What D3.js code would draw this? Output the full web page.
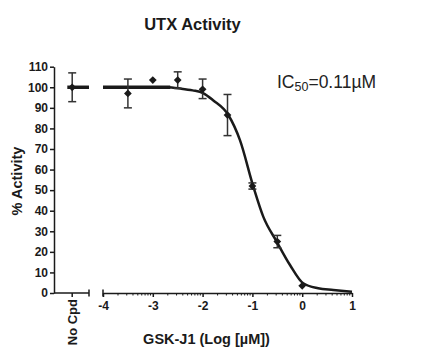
<!DOCTYPE html>
<html><head><meta charset="utf-8">
<script src="https://cdn.jsdelivr.net/npm/d3@7"></script>
<style>body{margin:0;background:#fff}svg{display:block}text{font-family:"Liberation Sans",Arial,sans-serif}</style>
</head><body><svg id="c" width="421" height="364"></svg>
<script>
// ---- data ----
const title = "UTX Activity";
const xTitle = "GSK-J1 (Log [\u00b5M])";
const yTitle = "% Activity";
const controlLabel = "No Cpd";
const controlValue = 100, controlLo = 93, controlHi = 107;
const logDose = [-3.5, -3.0, -2.5, -2.0, -1.5, -1.0, -0.5, 0.0];
const activity = [97, 103.5, 103.5, 99, 86.5, 52, 25, 3.5];
const errLo = [90, 103.5, 99.5, 94.5, 76.5, 50.5, 22, 3.5];
const errHi = [104, 103.5, 107.5, 104, 96.5, 53.5, 28, 3.5];
const fitX = [-2.7, -2.45, -2.2, -1.99, -1.79, -1.48, -1.25, -0.98, -0.78, -0.51, -0.245, 0.02, 0.32, 0.625, 1.0];
const fitY = [100, 99.4, 98.5, 97.2, 93.7, 86.4, 74.3, 51.6, 37, 24.9, 13.6, 4.7, 2.3, 1.5, 0.6];
const topPlateauX = [-4, -2.65];
const topPlateau = 100;
const xTicks = [-4, -3, -2, -1, 0, 1];
const yTicks = [0, 10, 20, 30, 40, 50, 60, 70, 80, 90, 100, 110];

// ---- layout ----
const svg = d3.select("#c");
const ink = "#1a1a1a";
const x = d3.scaleLinear().domain([-4, 1]).range([103, 352]);
const y = d3.scaleLinear().domain([0, 110]).range([293, 66.7]);
const xc = d3.scaleLinear().domain([0, 1]).range([54, 89]); // control segment
const ctrlPos = 0.52;

// title
svg.append("text").attr("x", 192.5).attr("y", 30).attr("text-anchor", "middle")
  .attr("font-size", 16.5).attr("font-weight", "bold").attr("fill", ink).text(title);

// y axis
const yAxis = svg.append("g").attr("transform", "translate(54,0)")
  .call(d3.axisLeft(y).tickValues(yTicks).tickSize(4).tickPadding(2).tickSizeOuter(0));
yAxis.select(".domain").attr("stroke", ink).attr("stroke-width", 1.5);
yAxis.selectAll(".tick line").attr("stroke", ink).attr("stroke-width", 1.5);
yAxis.selectAll(".tick text").attr("font-size", 12).attr("font-weight", "bold").attr("fill", ink)
  .attr("font-family", "Liberation Sans, Arial, sans-serif");

// control x segment
svg.append("line").attr("x1", xc(0)).attr("x2", xc(1)).attr("y1", y(0)).attr("y2", y(0))
  .attr("stroke", ink).attr("stroke-width", 1.5);
svg.append("line").attr("x1", xc(1)).attr("x2", xc(1)).attr("y1", y(0) - 3.5).attr("y2", y(0) + 3.5)
  .attr("stroke", ink).attr("stroke-width", 1.5);
svg.append("line").attr("x1", xc(ctrlPos)).attr("x2", xc(ctrlPos)).attr("y1", y(0)).attr("y2", y(0) + 4)
  .attr("stroke", ink).attr("stroke-width", 1.5);
svg.append("text").attr("transform", `translate(${xc(ctrlPos) + 4.5},${y(0) + 6}) rotate(-90)`)
  .attr("text-anchor", "end").attr("font-size", 13).attr("font-weight", "bold").attr("fill", ink).text(controlLabel);

// main x axis
const xAxis = svg.append("g").attr("transform", `translate(0,${y(0)})`)
  .call(d3.axisBottom(x).tickValues(xTicks).tickSize(4).tickPadding(4).tickSizeOuter(0).tickFormat(d3.format("d")));
xAxis.select(".domain").attr("stroke", ink).attr("stroke-width", 1.5);
xAxis.selectAll(".tick line").attr("stroke", ink).attr("stroke-width", 1.5);
xAxis.selectAll(".tick text").attr("font-size", 12).attr("font-weight", "bold").attr("fill", ink)
  .attr("font-family", "Liberation Sans, Arial, sans-serif").text(d => d < 0 ? "-" + Math.abs(d) : d);
svg.append("line").attr("x1", x(-4)).attr("x2", x(-4)).attr("y1", y(0) - 3.5).attr("y2", y(0) + 3.5)
  .attr("stroke", ink).attr("stroke-width", 1.5);
// minor log ticks
const minor = [];
for (let d = -4; d < 1; d++) for (let k = 2; k <= 9; k++) minor.push(d + Math.log10(k));
svg.append("g").selectAll("line").data(minor).join("line")
  .attr("x1", d => x(d)).attr("x2", d => x(d)).attr("y1", y(0)).attr("y2", y(0) + 2.5)
  .attr("stroke", ink).attr("stroke-width", 1);

// axis titles
svg.append("text").attr("transform", `translate(22,181) rotate(-90)`).attr("text-anchor", "middle")
  .attr("font-size", 14.5).attr("font-weight", "bold").attr("fill", ink).text(yTitle);
svg.append("text").attr("x", 206.5).attr("y", 344).attr("text-anchor", "middle")
  .attr("font-size", 14.5).attr("font-weight", "bold").attr("fill", ink).text(xTitle);

// plateau lines
svg.append("line").attr("x1", xc(0.38)).attr("x2", xc(1)).attr("y1", y(topPlateau)).attr("y2", y(topPlateau))
  .attr("stroke", ink).attr("stroke-width", 3.5);
svg.append("line").attr("x1", x(topPlateauX[0])).attr("x2", x(topPlateauX[1])).attr("y1", y(topPlateau)).attr("y2", y(topPlateau))
  .attr("stroke", ink).attr("stroke-width", 3.5);

// fitted curve
svg.append("path").datum(fitX.map((v, i) => [v, fitY[i]]))
  .attr("d", d3.line().x(d => x(d[0])).y(d => y(d[1])).curve(d3.curveMonotoneX))
  .attr("fill", "none").attr("stroke", ink).attr("stroke-width", 2.5);

// error bars
function errBar(cx, lo, hi) {
  if (hi - lo < 0.01) return;
  const g = svg.append("g").attr("stroke", "#333").attr("stroke-width", 1.5);
  g.append("line").attr("x1", cx).attr("x2", cx).attr("y1", y(lo)).attr("y2", y(hi));
  g.append("line").attr("x1", cx - 4).attr("x2", cx + 4).attr("y1", y(lo)).attr("y2", y(lo));
  g.append("line").attr("x1", cx - 4).attr("x2", cx + 4).attr("y1", y(hi)).attr("y2", y(hi));
}
errBar(xc(ctrlPos), controlLo, controlHi);
logDose.forEach((d, i) => errBar(x(d), errLo[i], errHi[i]));

// markers
const diamond = d3.symbol().type(d3.symbolSquare).size(30)();
svg.append("path").attr("d", diamond).attr("fill", ink)
  .attr("transform", `translate(${xc(ctrlPos)},${y(controlValue)}) rotate(45)`);
svg.append("g").selectAll("path").data(logDose).join("path")
  .attr("d", diamond).attr("fill", ink)
  .attr("transform", (d, i) => `translate(${x(d)},${y(activity[i])}) rotate(45)`);

// IC50 label
const ic = svg.append("text").attr("x", 277).attr("y", 88).attr("font-size", 17.5).attr("fill", "#222");
ic.append("tspan").text("IC");
ic.append("tspan").attr("font-size", 12.5).attr("dy", 3).text("50");
ic.append("tspan").attr("dy", -3).text("=0.11\u00b5M");
</script></body></html>
